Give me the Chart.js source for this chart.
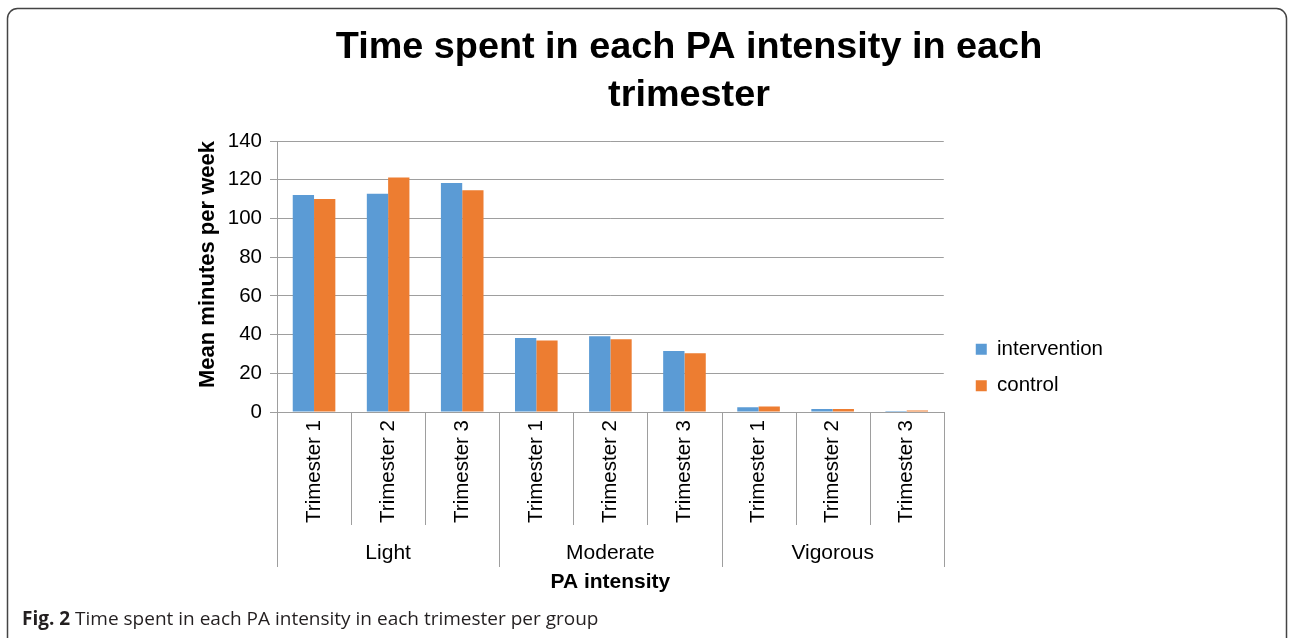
<!DOCTYPE html>
<html>
<head>
<meta charset="utf-8">
<script src="https://cdn.jsdelivr.net/npm/chart.js@4.4.0/dist/chart.umd.min.js"></script>
<style>
html,body{margin:0;padding:0;background:#fff;}
#wrap{width:1289px;height:638px;position:relative;}
canvas{display:block;}
</style>
</head>
<body>
<div id="wrap"><canvas id="c" width="1289" height="638"></canvas></div>
<script>
// ---- data ----
const groups = ['Light', 'Moderate', 'Vigorous'];
const trimesters = ['Trimester 1', 'Trimester 2', 'Trimester 3'];
const categories = ['Trimester 1','Trimester 2','Trimester 3','Trimester 1','Trimester 2','Trimester 3','Trimester 1','Trimester 2','Trimester 3'];
const interventionValues = [112.1, 112.7, 118.3, 38.2, 39.1, 31.5, 2.4, 1.5, 0.5];
const controlValues      = [110.0, 121.1, 114.6, 37.0, 37.6, 30.3, 2.9, 1.6, 0.8];
const seriesNames = ['intervention', 'control'];
const yMin = 0, yMax = 140, yStep = 20;
const chartTitle = ['Time spent in each PA intensity in each', 'trimester'];
const yTitle = 'Mean minutes per week';
const xTitle = 'PA intensity';
const captionBold = 'Fig. 2';
const captionText = ' Time spent in each PA intensity in each trimester per group';

const FONT = '"Liberation Sans", Arial, Helvetica, sans-serif';
const GRID = '#9e9e9e';

const decor = {
  id: 'decor',
  beforeDraw(chart) {
    const ctx = chart.ctx;
    ctx.save();
    ctx.fillStyle = '#ffffff';
    ctx.fillRect(0, 0, chart.width, chart.height);
    ctx.restore();
  },
  afterLayout(chart) {
    const t = chart.titleBlock;
    if (t) {
      const cx = 689, half = 500;
      t.left = cx - half; t.right = cx + half; t.width = 2 * half;
    }
  },
  afterDraw(chart) {
    const ctx = chart.ctx;
    const xs = chart.scales.x;
    const a = chart.chartArea;
    const step = xs.getPixelForValue(1) - xs.getPixelForValue(0);
    ctx.save();
    // category / group separators below the axis
    ctx.strokeStyle = GRID;
    ctx.lineWidth = 1;
    for (let i = 0; i <= categories.length; i++) {
      const px = Math.round(xs.getPixelForValue(i) - step / 2) + 0.5;
      const long = (i % trimesters.length === 0);
      ctx.beginPath();
      ctx.moveTo(px, a.bottom);
      ctx.lineTo(px, a.bottom + (long ? 155 : 113));
      ctx.stroke();
    }
    // group labels
    ctx.fillStyle = '#000';
    ctx.font = '21px ' + FONT;
    ctx.textAlign = 'center';
    ctx.textBaseline = 'middle';
    groups.forEach((g, gi) => {
      const cx = xs.getPixelForValue(gi * trimesters.length + 1);
      ctx.fillText(g, cx, a.bottom + 141);
    });
    // caption
    ctx.textAlign = 'left';
    ctx.fillStyle = '#231f20';
    ctx.font = 'bold 19px "Open Sans", sans-serif';
    const x0 = 22, yc = 620;
    ctx.fillText(captionBold, x0, yc);
    const w = ctx.measureText(captionBold).width;
    ctx.font = '19px "Open Sans", sans-serif';
    ctx.fillText(captionText, x0 + w, yc);
    // rounded frame
    ctx.strokeStyle = '#444';
    ctx.lineWidth = 1.5;
    const fx = 7.5, fy = 8.5, fw = 1279, fh = 720, r = 10;
    ctx.beginPath();
    ctx.moveTo(fx + r, fy);
    ctx.lineTo(fx + fw - r, fy);
    ctx.arcTo(fx + fw, fy, fx + fw, fy + r, r);
    ctx.lineTo(fx + fw, fy + fh);
    ctx.moveTo(fx, fy + fh);
    ctx.lineTo(fx, fy + r);
    ctx.arcTo(fx, fy, fx + r, fy, r);
    ctx.stroke();
    ctx.restore();
  }
};

new Chart(document.getElementById('c'), {
  type: 'bar',
  data: {
    labels: categories,
    datasets: [
      { label: seriesNames[0], data: interventionValues, backgroundColor: '#5b9bd5', borderWidth: 0 },
      { label: seriesNames[1], data: controlValues, backgroundColor: '#ed7d31', borderWidth: 0 }
    ]
  },
  options: {
    responsive: false,
    animation: false,
    devicePixelRatio: 1,
    layout: { padding: { left: 193, right: 176, top: 0, bottom: 40 } },
    datasets: { bar: { categoryPercentage: 0.575, barPercentage: 1.0 } },
    plugins: {
      title: {
        display: true,
        text: chartTitle,
        color: '#000',
        font: { family: FONT, size: 37.8, weight: 'bold', lineHeight: 1.27 },
        padding: { top: 24, bottom: 21 }
      },
      legend: {
        display: true,
        position: 'right',
        align: 'end',
        fullSize: false,
        labels: {
          boxWidth: 11, boxHeight: 11, padding: 16,
          color: '#000',
          font: { family: FONT, size: 20.5 }
        }
      },
      tooltip: { enabled: false }
    },
    scales: {
      x: {
        type: 'category',
        offset: true,
        grid: { display: false, drawTicks: false },
        border: { display: true, color: GRID, width: 1 },
        ticks: {
          autoSkip: false, minRotation: 90, maxRotation: 90, padding: 8,
          color: '#000', font: { family: FONT, size: 20.5 }
        },
        title: {
          display: true, text: xTitle, color: '#000',
          font: { family: FONT, size: 21, weight: 'bold', lineHeight: 1.2 },
          padding: { top: 40, bottom: 3.4 }
        },
        afterFit(s) { s.height = 186; }
      },
      y: {
        min: yMin, max: yMax,
        grid: { color: GRID, lineWidth: 1, tickLength: 7, tickColor: GRID },
        border: { display: true, color: GRID, width: 1 },
        ticks: { stepSize: yStep, padding: 8, color: '#000', font: { family: FONT, size: 20.5 } },
        title: {
          display: true, text: yTitle, color: '#000', align: 'end',
          font: { family: FONT, size: 22, weight: 'bold', lineHeight: 1.2 },
          padding: { top: 2, bottom: 4 }
        },
        afterFit(s) { s.width = 84; }
      },
      pad: {
        type: 'linear', position: 'right', display: true,
        grid: { display: false, drawTicks: false },
        border: { display: false },
        ticks: { display: false },
        afterFit(s) { s.width = 16; }
      }
    }
  },
  plugins: [decor]
});
</script>
</body>
</html>
